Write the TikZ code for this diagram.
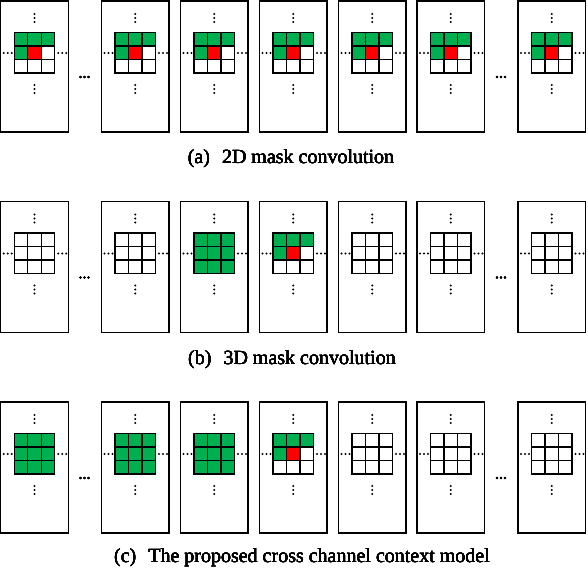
\documentclass[tikz,border=0pt]{standalone}
\usepackage{fontspec}
\setmainfont{Liberation Serif}
\usetikzlibrary{positioning}
\definecolor{maskgreen}{RGB}{0,176,80}
\definecolor{maskred}{RGB}{255,0,0}
\tikzset{
  panel/.style={rectangle, draw=black, line width=1.2pt,
    minimum width=67.5pt, minimum height=131pt, inner sep=0pt},
  cell/.style={draw=black, line width=1.1pt},
  dotmark/.style={fill=black},
  caption/.style={font=\fontsize{20}{24}\selectfont, inner sep=0pt}
}
% fill colour of one kernel cell: #1 kind (0 empty, 1 full, 2 mask), #2 row, #3 column
\newcommand{\kernelfill}[3]{%
  \def\kfill{white}%
  \ifnum#1=1 \def\kfill{maskgreen}\fi
  \ifnum#1=2
    \ifnum#2=0 \def\kfill{maskgreen}\fi
    \ifnum#2=1
      \ifnum#3=0 \def\kfill{maskgreen}\fi
      \ifnum#3=1 \def\kfill{maskred}\fi
    \fi
  \fi}
\newcommand{\vdotsat}[2]{\foreach \d in {-4,0,4} \fill[dotmark] (#1, #2+\d) circle (1.15);}
\newcommand{\hdotsat}[2]{\foreach \d in {-4,0,4} \fill[dotmark] (#1+\d, #2) circle (1.15);}
% one channel: #1 name, #2 left edge, #3 top edge, #4 kind
\newcommand{\kernelpanel}[4]{%
  \node[panel] (#1) at (#2+33.75, #3+65.5) {};
  \foreach \rr in {0,1,2}
    \foreach \cc in {0,1,2} {
      \kernelfill{#4}{\rr}{\cc}
      \draw[cell, fill=\kfill] (#2+13.5+13.5*\cc, #3+31.5+13.5*\rr) rectangle ++(13.5,13.5);
    }
  \vdotsat{#2+33.75}{#3+17}
  \vdotsat{#2+33.75}{#3+88}
  \hdotsat{#2+7}{#3+52}
  \hdotsat{#2+61.5}{#3+52}
}

\begin{document}
\begin{tikzpicture}[x=1pt, y=-1pt]
  \useasboundingbox (0,0) rectangle (588,572);

  % (a) 2D mask convolution
  \foreach \px/\k [count=\i] in {0.7/2, 101.5/2, 180.5/2, 259.5/2, 338.5/2, 417/2, 518/2}
    \kernelpanel{a\i}{\px}{1}{\k}
  \hdotsat{84.5}{77}
  \hdotsat{501}{77}
  \node[caption] (capa) at (291,159) {(a)\hspace{0.6em}2D mask convolution};

  % (b) 3D mask convolution
  \foreach \px/\k [count=\i] in {0.7/0, 101.5/0, 180.5/1, 259.5/2, 338.5/0, 417/0, 518/0}
    \kernelpanel{b\i}{\px}{201.5}{\k}
  \hdotsat{84.5}{277.5}
  \hdotsat{501}{277.5}
  \node[caption] (capb) at (292,360) {(b)\hspace{0.6em}3D mask convolution};

  % (c) cross channel context model
  \foreach \px/\k [count=\i] in {0.7/1, 101.5/1, 180.5/1, 259.5/2, 338.5/0, 417/0, 518/0}
    \kernelpanel{c\i}{\px}{402}{\k}
  \hdotsat{84.5}{478}
  \hdotsat{501}{478}
  \node[caption] (capc) at (302,558) {(c)\hspace{0.6em}The proposed cross channel context model};
\end{tikzpicture}
\end{document}
